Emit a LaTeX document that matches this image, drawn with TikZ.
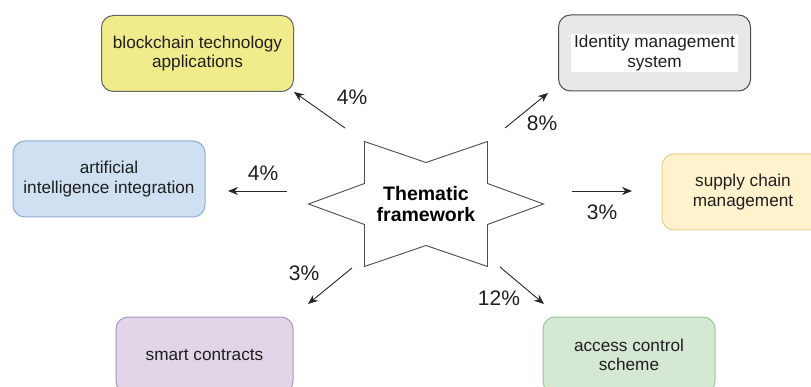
\documentclass[tikz,border=0pt]{standalone}
\usepackage{fontspec}
\setmainfont{Liberation Sans}
\usetikzlibrary{arrows.meta}

\definecolor{chainfill}{RGB}{240,236,140}
\definecolor{aifill}{RGB}{207,224,242}
\definecolor{aidraw}{RGB}{140,172,214}
\definecolor{idfill}{RGB}{232,232,232}
\definecolor{supplyfill}{RGB}{255,242,204}
\definecolor{supplydraw}{RGB}{232,208,140}
\definecolor{purplefill}{RGB}{225,213,231}
\definecolor{purpledraw}{RGB}{168,150,192}
\definecolor{greenfill}{RGB}{213,232,212}
\definecolor{greendraw}{RGB}{150,200,148}

\begin{document}
\begin{tikzpicture}[
  x=1pt, y=-1pt,
  boxfont/.style={font=\fontsize{17.2}{19.5}\selectfont, text=black!88},
  box/.style={rectangle, draw, rounded corners=12pt, line width=1pt, minimum width=192pt, minimum height=76pt, align=center, boxfont},
  arrow/.style={-{Stealth[length=10pt,width=8pt]}, line width=0.9pt, black!85},
  pct/.style={font=\fontsize{21}{23}\selectfont, text=black!88}
]
\useasboundingbox (0,0) rectangle (811,387);

\node[font=\fontsize{19.5}{21}\selectfont\bfseries, align=center] (theme) at (426,204) {Thematic\\framework};
\draw[black!70, line width=0.9pt] (theme.center) +(-61.5,-62.5) -- +(0,-41.5) -- +(61.5,-62.5) -- +(61.5,-20.5) -- +(117.5,0) -- +(61.5,20.5) -- +(61.5,62.5) -- +(0,41.5) -- +(-61.5,62.5) -- +(-61.5,20.5) -- +(-117.5,0) -- +(-61.5,-20.5) -- cycle;

\node[box, fill=chainfill, draw=black!60] (chain) at (197.5,53.5) {blockchain technology\\applications};
\node[box, fill=aifill, draw=aidraw] (ai) at (109,179) {artificial\\intelligence integration};
\node[box, fill=idfill, draw=black!70] (identity) at (654.5,53) {};
\node[fill=white, inner sep=1pt, minimum width=167pt, minimum height=37pt, align=center, boxfont] (identity_text) at (identity.center) {Identity management\\system};
\node[box, fill=supplyfill, draw=supplydraw, minimum width=162pt] (supply) at (743,192) {supply chain\\management};
\node[box, fill=purplefill, draw=purpledraw, minimum width=177pt] (contracts) at (204.5,355) {smart contracts};
\node[box, fill=greenfill, draw=greendraw, minimum width=172pt] (access) at (629,355) {access control\\scheme};

% arrow ends
\coordinate (chain_tail) at (345,128);
\coordinate (chain_head) at (294,92);
\coordinate (ai_tail) at (287,191);
\coordinate (ai_head) at (228,191);
\coordinate (id_tail) at (505,128);
\coordinate (id_head) at (548,93);
\coordinate (supply_tail) at (572,191);
\coordinate (supply_head) at (632,191);
\coordinate (contracts_tail) at (352,268);
\coordinate (contracts_head) at (308,304);
\coordinate (access_tail) at (500,267);
\coordinate (access_head) at (544,304);

\draw[arrow] (chain_tail) -- (chain_head);
\draw[arrow] (ai_tail) -- (ai_head);
\draw[arrow] (id_tail) -- (id_head);
\draw[arrow] (supply_tail) -- (supply_head);
\draw[arrow] (contracts_tail) -- (contracts_head);
\draw[arrow] (access_tail) -- (access_head);

\node[pct] (chain_pct) at (352,97) {4\%};
\node[pct] (ai_pct) at (263,173) {4\%};
\node[pct] (id_pct) at (542,123) {8\%};
\node[pct] (supply_pct) at (602,212) {3\%};
\node[pct] (contracts_pct) at (304,273) {3\%};
\node[pct] (access_pct) at (499,298) {12\%};

\end{tikzpicture}
\end{document}
